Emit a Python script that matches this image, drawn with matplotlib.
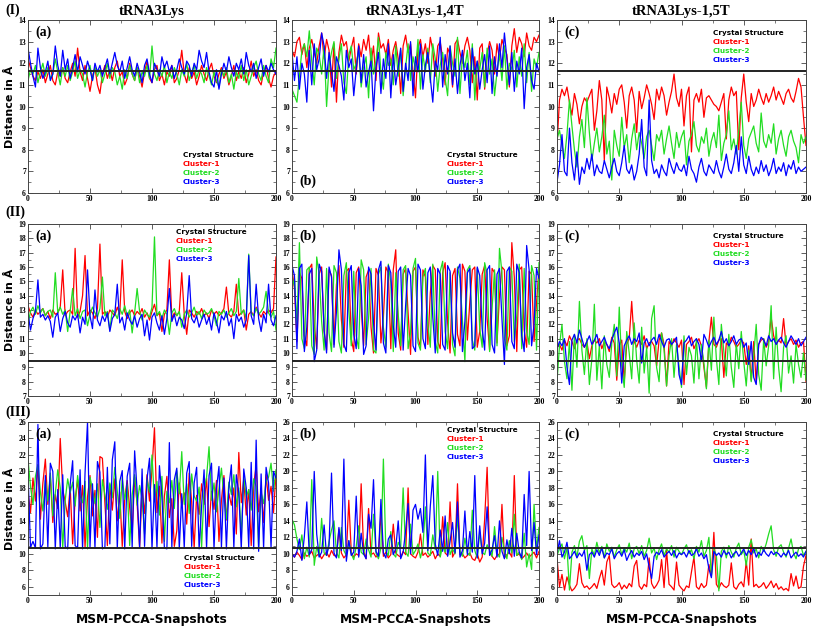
import numpy as np
import matplotlib
matplotlib.use("Agg")
import matplotlib.pyplot as plt
from matplotlib.ticker import MultipleLocator

# distances (Angstrom) per MSM-PCCA snapshot (every 2nd snapshot)
# row I
r1c1_red = [12.2,11.8,11.4,11.2,11.6,11.3,11.7,11.1,11.5,11.9,11.2,11.0,11.6,11.4,11.8,11.3,11.1,11.6,12.0,11.4,12.7,11.6,11.2,11.9,11.3,10.7,11.4,11.8,11.0,10.6,11.5,11.9,11.3,11.7,11.2,11.8,12.1,11.4,11.6,11.0,11.3,12.0,11.5,11.2,11.8,11.4,10.9,11.6,12.1,11.3,11.1,11.7,11.9,11.2,11.5,11.0,11.6,11.4,11.9,11.1,11.3,11.7,12.6,11.5,11.1,11.8,11.3,11.6,11.0,11.4,11.9,11.5,11.2,11.7,12.0,11.4,11.1,11.5,11.8,11.3,11.6,11.0,11.4,11.9,11.2,11.6,11.3,11.8,11.1,11.5,12.1,11.4,11.7,11.2,11.0,11.6,11.9,11.3,10.9,11.4,11.6]
r1c1_green = [11.2,11.7,11.5,11.9,11.1,11.6,12.0,11.4,11.8,11.3,11.5,12.2,11.6,11.0,11.8,11.4,11.9,11.2,11.6,12.1,11.3,11.7,11.5,10.9,11.6,11.9,11.2,11.8,11.4,11.7,11.1,11.5,12.0,11.3,11.8,11.6,11.0,11.4,10.8,11.7,11.3,11.9,11.5,11.2,11.8,11.1,11.6,11.4,11.9,11.3,12.8,11.5,11.2,11.7,11.4,11.9,11.1,11.6,11.3,11.8,11.5,11.0,11.7,11.4,12.0,11.2,11.6,11.9,11.3,11.7,11.5,11.1,11.8,11.4,11.0,11.6,11.2,10.9,11.7,11.4,11.8,11.1,11.5,10.8,11.6,11.3,11.9,11.2,11.7,11.0,11.4,11.8,12.1,11.5,11.2,11.9,11.4,11.1,12.2,11.8,12.7]
r1c1_blue = [12.7,12.0,11.4,10.9,12.7,11.8,11.3,11.6,12.1,11.2,11.5,12.8,11.9,11.4,12.6,11.7,12.2,11.3,11.8,12.4,11.6,12.3,11.9,11.5,12.1,11.7,11.2,12.0,11.6,11.9,11.4,11.8,12.2,11.5,12.0,12.5,11.9,11.6,12.1,11.3,11.8,12.3,11.7,11.4,12.0,11.6,11.1,11.9,12.2,11.5,11.1,12.0,11.7,11.4,12.3,11.8,12.1,11.6,11.9,11.3,11.7,12.2,11.8,11.5,12.1,11.9,11.4,12.0,11.7,12.6,12.1,11.8,12.5,11.6,11.1,10.9,11.7,10.8,11.5,12.0,11.6,12.3,11.8,11.4,12.0,11.7,12.2,11.5,12.5,11.9,11.6,12.0,11.3,11.8,12.2,11.4,11.9,11.6,12.0,11.7,11.5]

r1c2_red = [12.6,12.3,13.0,13.2,12.4,12.9,11.8,12.7,13.1,12.5,12.0,12.8,13.4,12.2,13.1,12.6,10.9,12.9,10.2,12.5,13.3,12.8,13.0,12.1,12.7,13.2,11.5,12.9,12.3,13.1,12.6,13.3,12.0,12.8,11.2,13.4,12.7,12.9,12.4,13.1,11.9,12.6,13.0,12.2,10.6,12.8,13.3,12.5,12.9,11.6,10.4,12.7,13.1,12.3,12.9,12.0,13.2,12.6,11.4,12.8,13.0,12.2,11.0,12.7,12.4,10.9,12.9,13.1,12.5,12.0,12.8,13.2,12.6,11.1,12.3,10.3,12.7,12.9,10.8,12.4,13.0,12.6,11.5,12.9,12.2,13.1,12.7,12.4,10.9,12.8,13.6,12.5,13.2,12.9,12.3,13.4,12.8,12.6,13.2,13.0,13.3]
r1c2_green = [10.8,10.5,10.2,11.4,12.6,12.9,12.3,13.5,12.1,11.0,12.7,12.4,11.5,12.8,10.0,11.9,12.5,13.0,11.3,12.2,12.9,11.1,10.6,12.4,12.8,11.7,12.0,12.6,10.9,11.8,12.3,10.4,12.7,11.5,12.1,13.2,11.6,10.8,12.5,11.9,12.2,11.0,12.8,11.4,12.6,10.5,11.8,12.9,11.2,12.3,11.7,13.1,10.8,12.4,11.6,12.7,11.1,12.9,12.2,10.7,11.9,12.5,11.3,10.5,12.8,12.0,11.4,13.2,10.6,12.3,11.8,12.6,11.0,12.9,10.3,12.1,11.7,12.5,10.9,12.7,11.5,12.2,10.5,11.6,12.4,11.2,12.8,10.8,12.0,11.7,12.6,10.9,12.3,11.4,12.9,11.1,12.5,10.7,12.2,11.8,12.5]
r1c2_blue = [12.5,11.2,12.3,10.8,12.0,11.5,10.2,12.6,11.0,12.9,11.7,12.2,13.4,12.8,11.3,12.5,11.6,10.7,12.3,11.9,11.4,10.3,12.6,11.8,12.2,10.5,11.7,12.8,11.1,12.4,10.9,11.6,12.1,9.8,11.8,12.5,10.6,12.2,11.3,12.9,10.4,12.4,11.0,11.8,12.7,10.7,12.0,11.2,13.0,10.5,12.3,11.6,12.9,10.8,11.9,12.5,11.3,10.2,12.1,11.7,13.2,10.9,12.4,11.5,12.8,11.0,12.2,10.6,11.9,12.6,11.2,12.0,10.4,12.7,11.5,12.1,10.8,11.7,12.4,11.1,12.8,10.6,12.3,11.4,12.9,11.8,13.4,12.2,11.0,12.5,10.7,12.1,11.5,12.7,9.9,11.8,12.4,11.2,10.8,12.0,11.6]

r1c3_red = [8.2,10.3,10.8,10.5,10.9,10.2,9.6,10.6,10.1,9.2,10.0,10.4,10.2,10.5,10.8,8.9,9.8,11.2,10.3,7.5,10.9,10.4,9.7,10.6,10.1,10.8,11.0,10.2,9.0,10.5,10.9,10.3,8.8,10.7,9.9,10.4,11.0,10.6,10.1,9.4,10.8,10.3,10.9,10.5,9.6,10.2,10.7,11.5,10.4,10.0,10.8,9.1,10.5,10.9,7.9,10.3,10.6,10.2,10.8,9.5,10.4,10.5,10.3,10.1,10.0,9.8,10.2,10.6,8.5,10.3,10.9,10.5,10.7,8.0,10.4,11.5,10.2,9.3,10.6,10.0,10.3,10.8,10.4,10.1,10.6,10.2,10.5,10.9,10.3,10.7,10.4,10.1,10.6,10.8,10.4,10.2,10.7,11.3,10.9,9.5,8.2]
r1c3_green = [8.5,8.9,8.2,7.6,8.7,10.3,9.1,8.0,7.2,8.6,9.4,8.1,10.4,8.8,7.5,8.3,9.0,7.9,8.6,9.6,7.8,8.4,6.6,8.9,8.2,7.7,9.5,8.1,8.7,7.4,8.5,9.2,8.0,8.8,8.3,7.6,8.6,8.9,8.2,7.5,8.7,8.4,8.9,7.8,8.5,9.1,8.3,7.6,8.8,8.1,8.6,8.9,7.3,8.4,8.7,9.3,8.2,7.9,8.6,8.3,9.0,7.7,8.4,8.8,8.1,9.6,7.5,8.3,8.7,9.8,8.0,8.5,7.8,8.9,10.2,8.2,7.6,8.5,8.8,9.1,8.3,7.9,9.7,8.4,8.1,8.7,8.3,9.2,7.8,8.5,8.9,8.2,7.7,8.6,8.9,8.4,8.1,7.4,8.7,8.3,8.6]
r1c3_blue = [6.5,7.3,8.7,7.0,6.8,9.0,7.4,6.6,7.9,6.4,7.2,6.9,7.6,7.1,7.8,6.8,7.3,7.0,6.9,7.5,7.1,6.7,7.2,7.6,7.0,6.8,7.4,8.2,7.1,6.9,7.3,6.6,7.0,7.8,9.4,7.2,6.8,10.3,7.5,6.9,7.1,6.7,7.3,7.0,6.8,7.6,7.2,6.9,7.4,7.1,7.0,7.3,6.8,7.7,7.1,6.9,6.5,7.2,7.6,7.0,6.8,7.3,7.1,6.9,7.5,7.0,6.7,7.2,7.8,7.1,6.9,7.4,8.2,7.0,8.6,7.3,6.9,7.7,7.1,6.8,7.2,6.9,7.5,7.0,7.3,6.8,7.1,7.6,6.9,7.2,7.0,7.4,6.8,7.3,7.1,7.5,6.9,7.2,7.0,7.1,7.2]

# row II
r2c1_red = [13.3,12.8,12.5,13.0,12.7,12.9,13.1,12.6,12.9,12.4,13.0,12.7,12.8,13.2,15.8,12.6,12.9,13.0,12.7,17.3,12.5,12.9,14.0,16.8,12.6,13.0,12.8,12.4,13.1,17.6,12.7,12.9,12.5,13.0,12.8,12.6,13.2,12.7,16.5,12.9,12.4,12.8,13.0,12.6,12.9,12.7,13.1,12.5,12.8,12.3,12.9,13.4,12.6,12.8,11.5,12.7,13.0,16.5,12.4,12.8,12.6,12.9,15.6,12.7,11.3,13.0,12.8,12.5,12.9,12.7,13.1,12.6,12.8,12.4,13.0,12.7,12.9,12.6,12.8,13.1,14.6,12.7,12.5,12.9,14.8,12.6,12.8,13.0,11.6,12.7,12.9,12.6,13.2,12.8,12.5,12.9,12.7,13.0,12.8,13.1,16.7]
r2c1_green = [12.0,12.9,13.2,12.7,13.3,12.8,13.1,12.6,12.9,13.0,12.5,15.6,12.8,13.2,12.7,13.0,11.5,12.9,14.5,12.6,13.1,12.4,12.9,13.0,11.9,12.7,13.2,12.8,12.5,13.1,15.3,12.6,12.9,11.6,13.0,12.8,12.4,13.1,12.7,13.3,12.6,13.0,11.4,12.8,14.5,12.9,12.3,13.0,12.7,12.5,13.2,18.1,12.6,12.9,12.4,13.0,12.7,11.3,12.8,13.1,12.6,12.9,11.8,12.7,13.0,12.5,12.8,13.2,12.6,12.9,12.4,13.0,12.7,12.8,13.1,12.6,11.9,12.9,12.7,13.0,12.5,12.8,13.1,12.6,12.9,15.2,12.7,13.0,12.4,16.9,12.8,12.6,13.1,12.7,12.9,13.2,14.3,12.8,12.5,12.9,11.6]
r2c1_blue = [12.8,11.6,12.4,12.9,15.1,12.5,12.7,12.3,12.6,12.2,11.1,12.5,12.8,11.5,12.4,12.9,12.1,11.8,12.6,12.3,12.7,11.4,12.5,12.0,15.8,12.6,11.7,14.4,12.3,11.9,12.6,12.2,12.8,11.5,12.4,12.7,14.8,12.1,12.5,11.6,12.8,12.3,12.0,12.6,11.8,12.4,12.7,11.2,12.3,10.9,12.5,12.8,12.1,11.6,12.6,11.3,12.4,14.5,12.2,12.7,11.9,12.5,12.3,11.7,12.8,15.4,12.4,12.1,12.6,11.8,12.3,12.7,12.0,12.5,11.6,12.8,12.2,11.4,12.6,12.3,12.9,11.9,12.4,11.0,12.7,12.2,12.5,11.8,12.3,16.8,12.6,12.0,14.8,12.4,11.5,12.7,12.1,14.8,12.3,11.9,12.6]

r2c2_red = [15.8,14.5,10.8,15.6,15.2,11.2,10.5,15.9,16.2,12.0,10.3,15.5,16.0,11.5,10.2,15.8,15.4,10.6,14.8,16.1,12.3,10.4,15.7,15.9,11.0,10.1,15.6,16.0,13.2,10.5,15.3,15.8,11.8,10.0,15.9,15.4,10.7,12.5,16.0,15.6,10.3,15.8,17.2,11.4,10.2,15.5,15.9,12.8,9.9,15.7,16.0,11.1,10.4,15.8,15.3,10.6,14.2,16.1,15.8,10.8,10.3,15.6,16.3,12.1,10.0,15.4,15.9,11.3,10.5,16.2,15.7,10.9,13.6,15.8,16.0,10.4,11.5,15.5,16.1,12.4,10.2,15.9,15.6,10.7,14.0,16.0,15.8,10.5,11.2,17.7,15.3,10.1,15.8,16.0,11.6,10.4,15.7,15.5,10.8,13.5,15.9]
r2c2_green = [14.5,15.2,12.0,17.7,11.0,10.3,15.8,16.0,10.5,9.9,16.7,15.5,12.2,10.2,15.9,11.4,10.1,16.1,15.6,10.8,10.0,15.4,16.3,13.0,10.5,15.7,11.2,10.3,16.5,15.8,10.6,12.4,15.9,10.2,10.0,15.5,16.0,11.8,10.4,16.2,14.9,10.1,15.6,12.7,10.5,15.8,16.1,10.3,11.4,15.9,16.6,10.7,10.2,15.3,15.9,12.0,10.4,16.2,10.8,10.0,15.7,16.4,11.5,10.3,15.6,10.6,9.8,16.0,15.2,12.3,9.4,15.8,16.1,10.9,10.2,15.9,11.7,10.4,16.3,15.5,10.1,13.1,15.8,10.5,17.3,15.6,11.0,10.2,16.0,15.7,10.8,12.6,16.2,10.3,15.9,11.5,10.6,16.1,15.4,10.2,16.3]
r2c2_blue = [16.1,15.4,10.3,15.9,16.2,10.1,11.8,15.5,15.9,9.4,10.2,16.2,15.7,11.6,10.0,16.0,15.3,10.4,12.9,17.2,15.8,10.6,10.1,15.6,16.1,11.3,10.3,15.9,14.7,9.9,10.5,16.0,15.5,12.1,10.2,15.8,16.4,10.7,10.0,16.1,15.6,11.9,10.4,15.7,16.0,10.2,13.3,15.9,15.4,10.5,10.1,16.2,15.8,11.0,10.3,15.6,16.0,12.5,10.0,15.9,15.5,10.6,10.2,16.1,15.7,11.4,10.4,15.8,16.2,10.1,12.2,15.6,15.9,10.3,10.5,16.0,15.4,11.7,10.2,15.8,16.1,10.6,10.0,15.5,15.9,12.4,9.2,15.7,16.0,10.8,10.3,16.2,15.6,11.2,10.1,17.5,15.8,10.5,12.0,15.9,15.2]

r2c3_red = [10.4,10.6,10.2,10.9,10.5,11.2,10.8,10.3,10.9,11.0,10.6,10.4,10.8,9.6,10.5,10.9,10.7,11.0,10.3,10.8,10.6,10.1,11.1,10.7,8.1,10.5,10.9,8.0,10.6,11.0,13.6,10.8,10.4,10.9,10.6,11.2,10.3,10.7,10.8,10.5,9.1,10.9,11.4,10.6,7.7,10.8,10.5,11.0,10.7,10.4,10.9,7.8,10.6,10.8,11.1,10.3,10.7,11.0,10.5,9.0,7.6,10.8,12.5,10.6,10.4,10.9,11.0,8.3,10.7,10.5,11.1,10.8,10.4,10.6,10.9,10.7,9.2,10.5,8.1,10.8,7.9,10.6,10.9,11.0,10.4,10.8,12.5,11.2,10.6,10.9,10.7,12.4,10.5,10.8,11.0,10.6,10.9,10.4,10.7,10.8,8.0]
r2c3_green = [8.0,10.5,12.0,9.4,8.2,10.8,7.4,11.3,9.0,13.6,10.2,8.5,11.0,7.8,9.6,13.4,8.1,10.5,7.5,11.2,9.2,8.3,10.7,12.0,8.4,13.2,9.1,7.6,11.5,10.0,8.2,12.1,9.5,7.9,11.8,8.6,10.4,7.2,12.4,13.3,9.0,8.0,11.4,10.2,7.7,9.8,11.0,8.3,10.6,9.1,7.6,11.2,8.5,10.4,9.8,7.9,11.0,8.2,10.6,9.3,7.5,10.9,8.8,12.5,9.6,7.8,12.0,10.1,8.4,11.3,9.0,7.6,10.7,8.9,11.5,9.4,7.7,10.2,8.0,9.8,12.0,8.5,7.4,11.0,9.1,10.5,13.3,8.2,11.8,9.0,7.3,10.4,11.2,8.6,9.8,7.9,10.6,9.2,8.3,10.0,8.1]
r2c3_blue = [10.3,10.8,10.5,11.0,9.0,7.8,10.9,11.3,10.7,11.6,11.0,10.4,10.8,11.2,10.6,10.9,11.3,10.5,10.8,11.1,10.6,10.3,10.9,11.4,11.8,10.7,7.9,10.5,10.9,11.2,10.6,11.0,10.8,11.4,9.3,10.7,11.0,10.5,10.9,11.1,10.6,11.3,10.8,10.4,10.9,11.0,10.6,10.8,11.1,8.5,7.8,10.7,10.9,11.2,10.5,10.8,11.0,10.6,9.4,11.3,10.9,10.4,10.8,11.1,10.6,10.9,11.5,10.7,11.0,10.5,10.8,11.2,10.6,10.9,11.0,10.4,10.7,9.2,10.8,8.3,7.8,10.6,11.1,10.9,10.5,11.2,10.8,11.0,10.6,10.9,11.1,10.7,10.4,10.8,11.2,10.9,10.6,11.0,10.5,10.8,11.1]

# row III
r3c1_red = [17.5,15.0,19.2,16.4,20.8,14.2,18.6,21.5,16.0,19.4,13.8,17.2,15.5,24.0,17.8,16.3,14.5,18.1,11.2,16.6,19.0,15.2,18.3,10.8,16.9,19.5,14.6,17.7,12.0,21.8,21.6,16.2,11.0,18.4,15.3,19.1,14.0,17.5,10.9,16.8,18.9,15.6,12.5,19.3,16.1,10.8,17.9,14.9,19.6,16.4,20.3,25.3,15.0,18.2,11.3,17.0,19.4,14.4,16.7,10.9,12.8,18.6,15.8,17.4,13.6,19.8,16.3,10.7,17.1,14.8,18.5,16.0,19.2,13.3,17.6,15.4,18.9,11.5,16.5,19.5,14.1,17.3,15.9,18.0,12.4,22.3,16.2,19.0,14.7,17.8,11.0,18.4,20.7,15.1,17.9,13.8,19.6,16.5,18.2,15.0,19.8]
r3c1_green = [21.5,18.2,16.0,19.4,20.8,17.5,15.2,18.9,16.4,19.8,14.6,17.3,20.2,18.0,10.7,16.5,19.1,17.4,18.7,15.8,19.5,17.0,16.2,18.8,10.6,19.3,17.8,16.1,18.5,13.2,19.0,17.2,15.4,18.6,16.8,20.5,17.6,14.3,19.2,16.6,18.4,11.0,17.1,19.6,15.9,18.3,16.7,12.4,19.0,17.5,22.0,16.3,18.8,14.7,19.4,11.5,17.6,16.2,18.9,15.5,20.1,17.3,22.4,16.0,18.5,14.9,19.7,17.0,16.4,18.1,10.8,17.7,19.3,23.0,16.5,18.6,15.1,17.9,20.4,16.8,14.2,18.7,17.2,19.6,15.7,18.0,12.0,19.4,16.9,17.8,15.3,19.1,18.2,10.9,17.4,16.1,18.8,19.3,21.0,17.6,20.2]
r3c1_blue = [20.0,10.8,11.5,10.7,25.7,10.6,11.2,19.5,10.8,21.0,20.0,10.6,17.8,10.7,19.6,10.9,10.6,18.4,21.3,11.0,10.7,20.2,10.6,19.8,26.0,10.8,18.5,10.7,21.2,19.9,10.6,10.8,20.5,11.2,21.4,23.6,10.7,18.8,20.1,10.6,19.4,21.0,10.8,22.5,17.6,10.7,20.3,10.9,19.1,21.6,10.6,18.4,10.8,20.7,16.9,10.7,10.6,23.5,10.8,19.0,20.4,10.6,17.3,10.7,19.8,21.2,10.9,18.6,20.5,10.6,15.8,20.2,10.7,19.5,21.0,10.6,17.9,20.6,10.8,19.2,10.6,18.1,20.8,10.7,19.6,17.4,10.6,20.3,18.0,10.8,21.1,10.6,23.8,10.3,19.7,10.7,20.5,18.6,10.8,20.0,19.2]

r3c2_red = [10.0,9.6,10.2,9.8,9.3,10.1,9.7,9.9,10.3,9.5,9.8,10.0,9.4,9.9,10.2,9.6,10.4,9.8,9.7,13.0,10.1,9.5,9.9,16.5,10.2,9.6,10.0,9.8,18.5,10.3,9.4,15.5,9.9,10.1,9.6,10.0,14.8,9.7,10.2,9.5,9.9,13.6,10.1,9.8,9.6,10.3,9.9,18.0,10.0,9.7,9.5,10.2,12.4,9.8,10.1,9.6,9.9,10.3,9.4,10.0,9.7,14.5,10.1,9.8,16.3,9.6,10.2,18.5,9.9,10.0,9.5,9.8,10.1,9.4,9.2,10.0,9.0,9.6,14.2,20.5,10.1,9.7,9.3,9.8,10.0,16.0,9.5,9.9,10.2,9.6,19.5,9.8,10.0,9.4,9.7,10.1,9.6,9.9,10.2,9.5,10.3]
r3c2_green = [14.2,13.5,11.8,10.5,12.3,9.4,10.8,9.6,19.0,8.6,10.9,9.7,14.3,10.1,9.8,11.5,12.9,14.0,10.2,9.5,13.2,10.4,9.8,11.6,10.0,9.3,10.9,13.4,10.2,9.9,11.8,10.5,9.6,14.8,10.1,9.4,10.7,21.5,10.3,9.8,12.7,10.0,9.6,11.4,10.8,18.0,10.2,9.7,13.6,9.9,10.4,11.2,9.5,10.8,15.7,10.1,9.8,12.3,10.5,20.0,9.6,11.0,10.2,13.8,9.9,10.6,10.0,14.5,10.3,9.7,11.9,10.1,9.8,15.3,10.4,9.5,12.6,10.2,9.9,11.1,10.5,9.7,13.3,10.0,9.6,12.0,10.3,9.4,11.6,10.1,14.8,9.8,10.2,9.3,12.5,8.4,10.0,8.1,16.0,10.6,13.2]
r3c2_blue = [10.0,9.6,10.3,11.8,9.2,12.1,16.3,9.9,10.5,20.0,12.4,9.6,10.2,13.5,9.8,11.0,19.8,10.1,9.5,13.2,10.4,21.5,9.1,11.6,9.8,10.2,17.0,9.6,12.5,10.0,9.4,14.8,13.1,19.0,10.3,9.7,16.6,10.1,9.5,11.8,12.3,9.9,10.6,14.0,9.4,10.2,12.8,16.1,10.0,15.3,16.0,14.2,15.5,12.6,22.0,10.4,15.8,19.5,11.2,9.8,12.9,10.3,14.6,9.7,11.5,13.8,10.1,16.3,9.6,10.4,15.2,9.9,12.7,10.2,19.5,9.5,13.4,10.0,11.3,15.7,9.8,10.5,12.2,9.6,14.0,10.3,9.4,11.7,10.0,13.1,9.7,12.5,10.2,9.5,17.2,11.0,20.0,10.4,13.8,9.9,12.3]

r3c3_red = [9.5,6.0,7.5,5.6,7.2,6.2,5.5,5.8,6.3,8.8,6.5,5.9,6.1,5.7,6.0,6.4,5.8,7.0,8.0,6.2,9.0,9.8,6.3,5.9,6.1,6.5,5.7,6.2,5.8,6.4,6.0,8.5,9.2,6.1,5.7,6.3,6.0,9.5,6.4,5.8,6.2,6.8,9.3,5.9,10.5,6.3,6.0,5.6,9.0,6.2,5.8,5.5,6.1,5.9,7.8,9.6,6.0,5.7,6.4,5.9,6.2,8.7,7.4,12.6,6.3,5.8,6.5,6.1,5.9,6.2,8.9,6.0,5.7,6.3,6.6,6.0,9.1,6.2,11.8,6.0,6.3,5.9,6.1,6.5,5.8,6.2,6.7,5.9,6.4,5.7,6.0,5.6,5.8,5.5,7.6,6.1,7.3,5.8,6.0,8.5,9.8]
r3c3_green = [9.8,10.6,11.2,9.4,10.8,5.6,10.2,11.0,9.6,11.5,12.2,10.4,11.0,7.0,10.6,9.8,11.4,10.1,10.9,9.5,11.2,10.3,10.8,9.6,10.5,11.1,9.9,10.7,10.2,11.3,9.4,10.6,10.9,10.0,11.0,9.7,10.4,11.9,10.1,10.7,9.3,10.5,11.2,9.8,10.6,10.2,11.0,9.6,10.8,10.3,9.9,10.6,11.1,10.0,10.5,9.4,10.9,10.2,11.6,9.7,10.4,12.0,7.3,10.6,9.8,5.5,10.3,10.8,9.5,11.0,10.2,9.6,10.7,11.3,9.9,10.4,8.6,10.8,11.7,10.1,10.6,9.5,10.9,10.3,11.2,12.4,13.4,10.5,9.7,10.8,11.1,10.2,9.6,10.7,11.8,10.1,9.4,10.6,10.9,9.8,10.3]
r3c3_blue = [10.0,11.6,9.6,10.2,11.4,9.4,9.8,10.3,9.5,10.1,9.7,10.4,8.0,9.9,10.2,9.6,10.5,9.8,10.7,9.5,10.1,9.9,10.6,9.4,10.0,10.3,9.7,10.5,9.2,9.9,10.4,9.6,10.1,9.8,10.3,9.3,10.0,8.4,7.0,9.7,10.2,9.9,10.5,9.6,10.0,10.3,9.8,10.4,9.5,10.1,9.9,10.2,9.6,10.4,9.8,10.0,10.6,9.7,10.1,9.4,9.9,8.2,7.1,10.3,9.8,10.1,9.6,10.4,9.9,10.2,9.5,10.0,10.3,9.7,10.1,10.6,9.8,10.4,9.9,10.7,9.6,10.2,9.8,10.5,10.0,9.7,10.3,9.9,10.2,10.0,9.6,10.1,9.8,10.4,9.5,9.9,10.2,9.7,10.0,9.6,10.3]

crystal = [11.65, 9.45, 10.7]   # crystal structure distance per row
col_titles = ["tRNA3Lys", "tRNA3Lys-1,4T", "tRNA3Lys-1,5T"]
row_labels = ["(I)", "(II)", "(III)"]
panel_letters = ["(a)", "(b)", "(c)"]
legend_names = ["Crystal Structure", "Cluster-1", "Cluster-2", "Cluster-3"]

data = [
    [(r1c1_red, r1c1_green, r1c1_blue), (r1c2_red, r1c2_green, r1c2_blue), (r1c3_red, r1c3_green, r1c3_blue)],
    [(r2c1_red, r2c1_green, r2c1_blue), (r2c2_red, r2c2_green, r2c2_blue), (r2c3_red, r2c3_green, r2c3_blue)],
    [(r3c1_red, r3c1_green, r3c1_blue), (r3c2_red, r3c2_green, r3c2_blue), (r3c3_red, r3c3_green, r3c3_blue)],
]

colors = ["#ff0000", "#22dd22", "#0000ff"]
leg_colors = ["#000000", "#ff0000", "#22dd22", "#0000ff"]

W, H = 813, 627
fig = plt.figure(figsize=(W / 100, H / 100), dpi=100)

# pixel boxes of the axes
lefts = [28, 292, 557]
rights = [276, 539, 806]
tops = [20, 224, 422]
bottoms = [193, 396, 595]
ylims = [(6, 14), (7, 19), (5, 26)]
ymaj = [1, 1, 2]
ymin_ = [0.5, 0.5, 1]

# where the letter and the legend sit: letter 'top'/'bottom', legend top y (axes frac)
letter_pos = [["top", "bottom", "top"], ["top", "top", "top"], ["top", "top", "top"]]
legend_x = [[0.625, 0.626, 0.625], [0.595, None, 0.625], [0.628, 0.626, 0.625]]
legend_y = [[0.22, 0.22, 0.927], [0.952, None, 0.93], [0.214, 0.954, 0.929]]

for r in range(3):
    for c in range(3):
        ax = fig.add_axes([lefts[c] / W, 1 - bottoms[r] / H,
                           (rights[c] - lefts[c]) / W, (bottoms[r] - tops[r]) / H])
        for vals, col in zip(data[r][c], colors):
            x = np.arange(len(vals)) * 200.0 / (len(vals) - 1)
            ax.plot(x, vals, color=col, lw=0.9)
        ax.axhline(crystal[r], color="#222222", lw=1.4, zorder=5)
        ax.set_xlim(0, 200)
        ax.set_ylim(*ylims[r])
        ax.xaxis.set_major_locator(MultipleLocator(50))
        ax.xaxis.set_minor_locator(MultipleLocator(25))
        ax.yaxis.set_major_locator(MultipleLocator(ymaj[r]))
        ax.yaxis.set_minor_locator(MultipleLocator(ymin_[r]))
        ax.tick_params(which="both", direction="in", top=True, right=True, pad=1.5,
                       color="#444444")
        ax.tick_params(which="major", length=3.5, width=0.6)
        ax.tick_params(which="minor", length=2, width=0.5)
        for lab in ax.get_xticklabels() + ax.get_yticklabels():
            lab.set_fontfamily("Liberation Serif")
            lab.set_fontweight("bold")
            lab.set_fontsize(5.5)
        for sp in ax.spines.values():
            sp.set_color("#444444")
            sp.set_linewidth(0.7)

        if letter_pos[r][c] == "top":
            ax.text(0.03, 0.97, panel_letters[c], transform=ax.transAxes, ha="left", va="top",
                    fontfamily="Liberation Serif", fontweight="bold", fontsize=10)
        else:
            ax.text(0.03, 0.03, panel_letters[c], transform=ax.transAxes, ha="left", va="bottom",
                    fontfamily="Liberation Serif", fontweight="bold", fontsize=10)

        if legend_x[r][c] is not None:
            for k, (name, lc) in enumerate(zip(legend_names, leg_colors)):
                ax.text(legend_x[r][c], legend_y[r][c] - k * 0.052, name, color=lc,
                        transform=ax.transAxes, ha="left", va="center",
                        fontfamily="DejaVu Sans", fontweight="bold", fontsize=5.2, zorder=6)

        if c == 0:
            ax.set_ylabel("Distance in Å", fontfamily="DejaVu Sans", fontsize=8,
                          fontweight="bold", labelpad=2)
        if r == 2:
            ax.set_xlabel("MSM-PCCA-Snapshots", fontfamily="DejaVu Sans", fontsize=8.8,
                          fontweight="bold", labelpad=6)

for c in range(3):
    fig.text((lefts[c] + rights[c]) / 2 / W, 1 - 11 / H, col_titles[c], ha="center", va="center",
             fontfamily="Liberation Serif", fontweight="bold", fontsize=10.5)
for r, yy in zip(range(3), [10, 212, 412]):
    fig.text(5 / W, 1 - yy / H, row_labels[r], ha="left", va="center",
             fontfamily="Liberation Serif", fontweight="bold", fontsize=10)

fig.savefig("out.png", dpi=100)
